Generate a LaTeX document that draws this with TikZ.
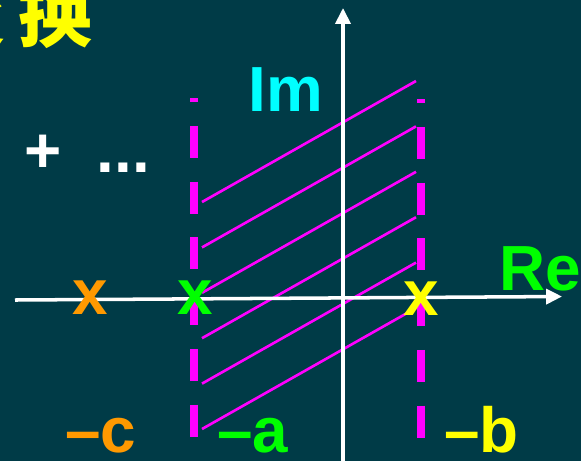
\documentclass[tikz,border=0pt]{standalone}
\usepackage{fontspec}
\setmainfont{Liberation Sans}
\newfontfamily\cjkfont{Noto Sans CJK SC}
\usetikzlibrary{arrows.meta}
\definecolor{bgteal}{RGB}{0,59,71}
\definecolor{roimag}{RGB}{255,0,255}
\definecolor{poleorange}{RGB}{255,153,0}
\definecolor{polegreen}{RGB}{0,255,0}
\definecolor{poleyellow}{RGB}{255,255,0}
\definecolor{labcyan}{RGB}{0,255,255}

\begin{document}
\begin{tikzpicture}[
  x=0.02cm, y=-0.02cm,
  font=\fontsize{36.3pt}{40pt}\selectfont\bfseries,
  axis/.style={draw=white, line width=2pt,
               -{Triangle[length=9pt,width=8.5pt]}},
  strip/.style={draw=roimag, line width=4.5pt,
                dash pattern=on 18.14pt off 13.6pt, dash phase=15.87pt},
  hatch/.style={draw=roimag, line width=1.5pt},
  lab/.style={inner sep=0pt, anchor=base west},
  pole/.style={inner sep=0pt, anchor=base}
]
  \useasboundingbox (0,0) rectangle (581,461);
  \clip (0,0) rectangle (581,461);
  \fill[bgteal] (0,0) rectangle (581,461);

  % title fragment
  \node[lab, anchor=base east, text=poleyellow, font=\cjkfont\bfseries\fontsize{42pt}{46pt}\selectfont]
    (title) at (93,41) {变\kern7pt换};
  \node[lab, text=white] (plus) at (24,172) {+};
  \node[lab, text=white] (dots) at (96.5,172) {...};

  % region of convergence
  \foreach \k in {0,...,5}
    \draw[hatch] (202,{202+45.4*\k}) -- (416,{81+45.4*\k});

  % axes
  \coordinate (reL) at (15,300);
  \coordinate (reR) at (562,296.5);
  \coordinate (imB) at (343,461);
  \coordinate (imT) at (343,8);
  \draw[axis] (reL) -- (reR);
  \draw[axis] (imB) -- (imT);

  % boundaries
  \coordinate (aT) at (194,98);
  \coordinate (aB) at (194,438);
  \coordinate (bT) at (421,99);
  \coordinate (bB) at (421,439);
  \draw[strip] (aT) -- (aB);
  \draw[strip] (bT) -- (bB);

  \node[lab, text=labcyan] (im) at (248,111) {Im};
  \node[lab, text=polegreen] (re) at (499,290) {Re};

  % poles
  \node[pole, text=poleorange] (pc) at (90,314) {x};
  \node[pole, text=polegreen] (pa) at (195,314) {x};
  \node[pole, text=poleyellow] (pb) at (421,315) {x};

  \node[lab, text=poleorange] (lc) at (65,452) {–c};
  \node[lab, text=polegreen] (la) at (217,452) {–a};
  \node[lab, text=poleyellow] (lb) at (444,452) {–b};
\end{tikzpicture}
\end{document}
